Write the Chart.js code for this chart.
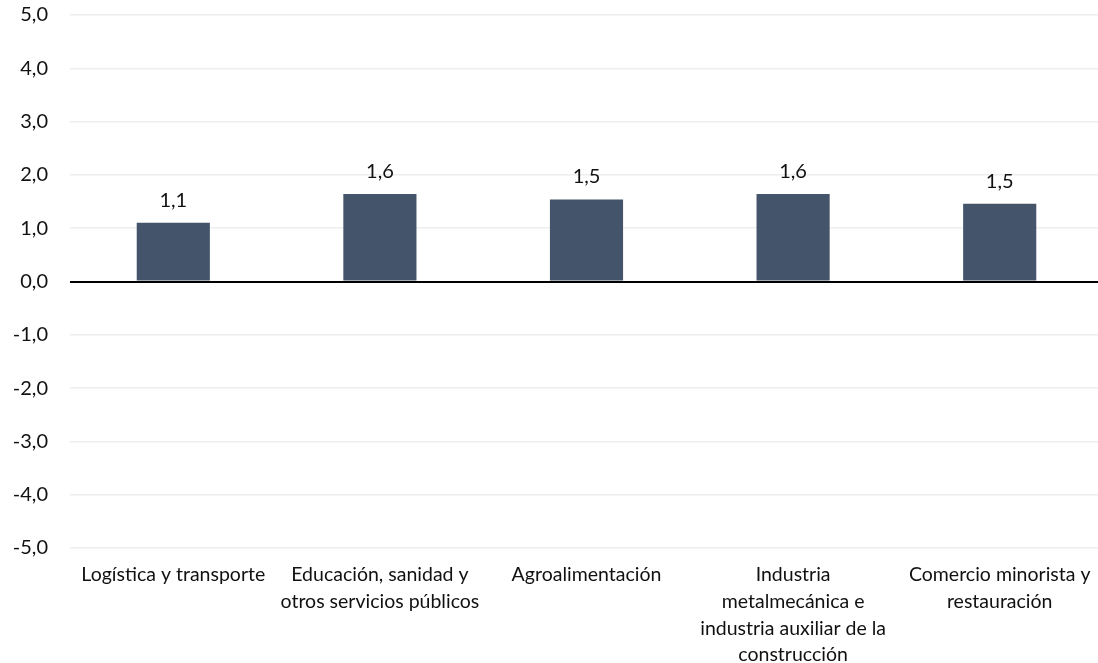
<!DOCTYPE html>
<html>
<head>
<meta charset="utf-8">
<script src="https://cdn.jsdelivr.net/npm/chart.js@4"></script>
<style>
  html, body { margin: 0; padding: 0; background: #fff; overflow: hidden; }
  /* plot runs slightly past the right edge of the page */
  #wrap { width: 1103px; height: 663px; position: relative; }
</style>
</head>
<body>
<div id="wrap"><canvas id="chart"></canvas></div>
<script>
// sectors and their values
var sectors = [
  'Logística y transporte',
  ['Educación, sanidad y', 'otros servicios públicos'],
  'Agroalimentación',
  ['Industria', 'metalmecánica e', 'industria auxiliar de la', 'construcción'],
  ['Comercio minorista y', 'restauración']
];
var values = [1.1, 1.64, 1.54, 1.64, 1.46];
var yTicks = [-5, -4, -3, -2, -1, 0, 1, 2, 3, 4, 5];

var FONT = 'Lato, "Open Sans", sans-serif';

function fmt(v) {
  return v.toFixed(1).replace('.', ',');
}

// value above each bar
var barLabels = {
  id: 'barLabels',
  afterDatasetsDraw: function(chart) {
    var ctx = chart.ctx;
    var meta = chart.getDatasetMeta(0);
    ctx.save();
    ctx.font = '20px ' + FONT;
    ctx.fillStyle = '#111';
    ctx.textAlign = 'center';
    ctx.textBaseline = 'alphabetic';
    meta.data.forEach(function(bar, i) {
      ctx.fillText(fmt(values[i]), bar.x, bar.y - 16);
    });
    ctx.restore();
  }
};

new Chart(document.getElementById('chart'), {
  type: 'bar',
  data: {
    labels: sectors,
    datasets: [{
      data: values,
      backgroundColor: '#44546A',
      borderWidth: 0,
      barPercentage: 0.354,
      categoryPercentage: 1
    }]
  },
  options: {
    responsive: true,
    maintainAspectRatio: false,
    animation: false,
    layout: { padding: { top: 0, right: 0, left: 0, bottom: 0 } },
    plugins: {
      legend: { display: false },
      tooltip: { enabled: false }
    },
    scales: {
      x: {
        grid: { display: false, drawTicks: false },
        border: { display: false },
        ticks: {
          color: '#111',
          font: { family: FONT, size: 19.5, lineHeight: 1.38 },
          maxRotation: 0,
          minRotation: 0,
          autoSkip: false,
          padding: 13
        },
        afterFit: function(scale) {
          scale.height = 115;
          scale.paddingLeft = 0;
          scale.paddingRight = 0;
        }
      },
      y: {
        min: -5,
        max: 5,
        afterBuildTicks: function(scale) {
          scale.ticks = yTicks.map(function(v) { return { value: v }; });
        },
        grid: {
          drawTicks: false,
          color: function(c) { return c.tick && c.tick.value === 0 ? '#000' : '#eeeeee'; },
          lineWidth: function(c) { return c.tick && c.tick.value === 0 ? 2 : 1.5; }
        },
        border: { display: false },
        ticks: {
          color: '#111',
          font: { family: FONT, size: 20 },
          padding: 22,
          callback: function(v) { return fmt(v); }
        },
        afterFit: function(scale) {
          scale.width = 70;
          scale.paddingTop = 15;
          scale.paddingBottom = 0;
        }
      }
    }
  },
  plugins: [barLabels]
});
</script>
</body>
</html>
